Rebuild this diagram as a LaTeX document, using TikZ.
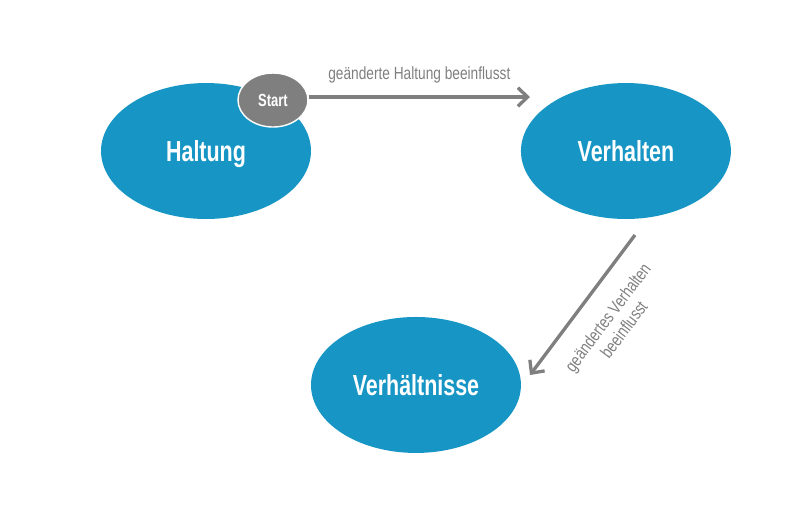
\documentclass[tikz,border=0pt]{standalone}
\usepackage{fontspec}
\setmainfont{Liberation Sans}[FakeStretch=0.78]
\newfontfamily\statefont{Liberation Sans}[FakeStretch=0.74]
\usetikzlibrary{arrows.meta, positioning, shapes.geometric}
\definecolor{stateblue}{HTML}{1796C5}
\definecolor{arrowgray}{HTML}{7F7F7F}

\tikzset{
  zustand/.style={ellipse, fill=stateblue, text=white, inner sep=0pt,
    minimum width=4.2cm, minimum height=2.72cm, text depth=0pt,
    font=\statefont\bfseries\fontsize{16.5}{19}\selectfont},
  startnode/.style={ellipse, fill=arrowgray, draw=white, line width=0.8pt,
    text=white, inner sep=0pt, minimum width=1.4cm, minimum height=1.08cm,
    font=\statefont\bfseries\fontsize{10}{12}\selectfont},
  wirkung/.style={text=arrowgray, inner sep=1pt, align=center,
    font=\fontsize{10}{11.5}\selectfont}
}

\begin{document}
\begin{tikzpicture}[x=0.02cm, y=-0.02cm, on grid, node distance=8.4cm,
  >={Straight Barb[length=5.5pt, width=10.5pt]}]
\useasboundingbox (0,0) rectangle (800,512);

% the three states
  \node[zustand]   (haltung)     at (206,151)     {Haltung};
  \node[zustand]   (verhalten)   [right=of haltung]  {Verhalten};
  \node[zustand]   (verhaeltnis) [below right=4.68cm and 4.2cm of haltung]
{Verhältnisse};
  \node[startnode] (start)       [above right=1.02cm and 1.34cm of haltung]
{Start};

% free ends of the links
  \coordinate (h-end) at (530,97);
  \coordinate (v-beg) at (635,235);
  \coordinate (v-end) at (530,375);

% define the links
  \path[->, color=arrowgray, line width=1.9pt]
        (start.east |- h-end) edge  node[wirkung, above=6pt] {geänderte Haltung beeinflusst} (h-end)
        (v-beg)      edge  node[wirkung, sloped, pos=0.47, below=10pt]
                             {geändertes Verhalten\\beeinflusst} (v-end);

\end{tikzpicture}
\end{document}
